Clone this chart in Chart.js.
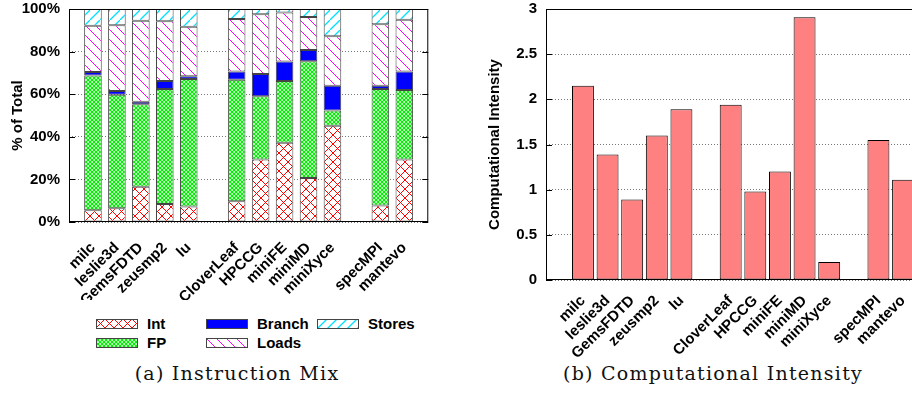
<!DOCTYPE html>
<html>
<head>
<meta charset="utf-8">
<script src="https://cdn.jsdelivr.net/npm/chart.js@4.4.1/dist/chart.umd.min.js"></script>
<style>
  html, body { margin: 0; padding: 0; background: #fff; width: 912px; height: 403px; overflow: hidden; }
  #wrap { position: relative; width: 912px; height: 403px; overflow: hidden; }
  #mixCanvas { position: absolute; left: 0; top: 0; }
  #ciCanvas { position: absolute; left: 460px; top: 0; }
  .cap { position: absolute; top: 363px; line-height: 20px; font-family: 'DejaVu Serif', serif; font-size: 19px; letter-spacing: 1.25px; color: #111; white-space: nowrap; transform: translateX(-50%); }
  .lg-swatch { position: absolute; }
  .lg-text { position: absolute; font: bold 15px 'Liberation Sans', Arial, sans-serif; line-height: 18px; color: #000; }
</style>
</head>
<body>
<div id="wrap">
  <canvas id="mixCanvas" width="450" height="300"></canvas>
  <canvas id="ciCanvas" width="500" height="360"></canvas>
  <div id="mixLegend"></div>
  <div class="cap" style="left:237px">(a) Instruction Mix</div>
  <div class="cap" style="left:713px">(b) Computational Intensity</div>
</div>
<script>
// Instruction mix / computational intensity per benchmark

const benchGroups = [
  ['milc', 'leslie3d', 'GemsFDTD', 'zeusmp2', 'lu'],
  ['CloverLeaf', 'HPCCG', 'miniFE', 'miniMD', 'miniXyce'],
  ['specMPI', 'mantevo'],
];

// % of total instructions
const intPct    = [5.5, 6.4, 16.5, 8.4, 7.3, 9.8, 29.3, 37.2, 20.7, 45.2, 7.8, 29.3];
const fpPct     = [63.3, 53.3, 38.8, 54.1, 59.8, 57.0, 29.7, 29.0, 54.8, 7.1, 54.7, 32.7];
const branchPct = [1.6, 1.8, 1.1, 3.7, 1.3, 3.9, 10.5, 9.2, 5.3, 11.7, 1.5, 8.6];
const loadsPct  = [21.7, 30.9, 38.1, 28.0, 23.3, 24.6, 28.0, 22.9, 15.5, 23.2, 28.8, 24.3];
const storesPct = [7.9, 7.6, 5.5, 5.8, 8.3, 4.7, 2.5, 1.7, 3.7, 12.8, 7.2, 5.1];

const intensity = [2.15, 1.39, 0.89, 1.60, 1.89, 1.94, 0.98, 1.20, 2.91, 0.20, 1.55, 1.11];

const mixTicks = [0, 20, 40, 60, 80, 100];
const ciTicks  = [0, 0.5, 1, 1.5, 2, 2.5, 3];

// ─── helpers ────────────────────────────────────────────────────────────────

// labels with an empty slot before, between and after the groups
const slotLabels = [''];
benchGroups.forEach(g => { slotLabels.push(...g, ''); });

function toSlots(values) {
  let i = 0;
  return slotLabels.map(l => (l === '' ? null : values[i++]));
}

function makePattern(size, draw) {
  const c = document.createElement('canvas');
  c.width = size; c.height = size;
  const g = c.getContext('2d');
  g.fillStyle = '#fff';
  g.fillRect(0, 0, size, size);
  draw(g, size);
  return g.createPattern(c, 'repeat');
}

function line(g, x1, y1, x2, y2) {
  g.beginPath(); g.moveTo(x1, y1); g.lineTo(x2, y2); g.stroke();
}

const intFill = makePattern(9, (g, s) => {
  g.strokeStyle = '#ff0000'; g.lineWidth = 1;
  line(g, 0, 0, s, s); line(g, s, 0, 0, s);
});
const fpFill = makePattern(4, (g, s) => {
  g.strokeStyle = '#00ee00'; g.lineWidth = 1.2;
  line(g, 0, 0, s, s); line(g, s, 0, 0, s);
});
const loadsFill = makePattern(10, (g, s) => {
  g.strokeStyle = '#ff00ff'; g.lineWidth = 1;
  line(g, 0, 0, s, s);
});
const storesFill = makePattern(10, (g, s) => {
  g.strokeStyle = '#00e0ff'; g.lineWidth = 1.3;
  line(g, -1, s + 1, s + 1, -1);
});

const mixSeries = [
  { label: 'Int',    data: intPct,    fill: intFill },
  { label: 'FP',     data: fpPct,     fill: fpFill },
  { label: 'Branch', data: branchPct, fill: '#0000ff' },
  { label: 'Loads',  data: loadsPct,  fill: loadsFill },
  { label: 'Stores', data: storesPct, fill: storesFill },
];

// plot frame + inward y tics, gnuplot style
const framePlugin = {
  id: 'frame',
  afterDatasetsDraw(chart) {
    const { ctx, chartArea: a, scales: { y } } = chart;
    ctx.save();
    ctx.strokeStyle = '#000';
    ctx.lineWidth = 1;
    ctx.strokeRect(a.left + 0.5, a.top + 0.5, a.right - a.left - 1, a.bottom - a.top - 1);
    y.ticks.forEach(t => {
      const py = Math.round(y.getPixelForValue(t.value)) + 0.5;
      line(ctx, a.left, py, a.left + 6, py);
      line(ctx, a.right, py, a.right - 6, py);
    });
    ctx.restore();
  },
};

Chart.defaults.font.family = "'Liberation Sans', Arial, sans-serif";
Chart.defaults.font.size = 15;
Chart.defaults.font.weight = 'bold';
Chart.defaults.color = '#000';

function xAxis(offset, height, pad) {
  return {
    offset,
    grid: { display: false },
    border: { display: false },
    ticks: { autoSkip: false, maxRotation: 45, minRotation: 45, padding: pad },
    afterFit: s => { s.height = height; },
  };
}

function yAxis(min, max, values, width, titleText, titlePad, fmt) {
  return {
    min, max,
    afterBuildTicks: s => { s.ticks = values.map(v => ({ value: v })); },
    // invisible tick marks keep the label gap without padding the top
    grid: { color: '#777', lineWidth: 1, drawTicks: true, tickLength: 9, tickColor: 'rgba(0,0,0,0)' },
    border: { display: false, dash: [1, 2] },
    ticks: { padding: 0, callback: fmt },
    title: { display: true, text: titleText, padding: { top: titlePad, bottom: 0 } },
    afterFit: s => { s.width = width; },
  };
}

// ─── (a) Instruction mix ────────────────────────────────────────────────────

function renderMixChart() {
  const ctx = document.getElementById('mixCanvas');
  const x = xAxis(false, 78, 9);
  x.stacked = true;
  const y = yAxis(0, 100, mixTicks, 69, '% of Total', 9, v => v + '%');
  y.stacked = true;

  new Chart(ctx, {
    type: 'bar',
    data: {
      labels: slotLabels,
      datasets: mixSeries.map(s => ({
        label: s.label,
        data: toSlots(s.data),
        backgroundColor: s.fill,
        borderColor: '#444',
        borderWidth: 1,
        borderSkipped: false,
        barPercentage: 0.734,
        categoryPercentage: 1,
      })),
    },
    options: {
      responsive: false,
      animation: false,
      layout: { padding: { top: 8, right: 13, left: 0, bottom: 0 } },
      plugins: { legend: { display: false }, tooltip: { enabled: false } },
      scales: { x, y },
    },
    plugins: [framePlugin],
  });
}

function renderMixLegend() {
  const box = document.getElementById('mixLegend');
  const colX = [96, 206, 317];
  const rowY = [319, 338];
  mixSeries.forEach((s, i) => {
    const left = colX[Math.floor(i / 2)];
    const top = rowY[i % 2];
    const c = document.createElement('canvas');
    c.width = 42; c.height = 10;
    c.className = 'lg-swatch';
    c.style.left = left + 'px';
    c.style.top = top + 'px';
    const g = c.getContext('2d');
    g.fillStyle = s.fill;
    g.fillRect(0, 0, 42, 10);
    g.strokeStyle = '#444';
    g.strokeRect(0.5, 0.5, 41, 9);
    box.appendChild(c);
    const t = document.createElement('div');
    t.className = 'lg-text';
    t.textContent = s.label;
    t.style.left = (left + 51) + 'px';
    t.style.top = (top - 4) + 'px';
    box.appendChild(t);
  });
}

// ─── (b) Computational intensity ───────────────────────────────────────────

function renderIntensityChart() {
  const ctx = document.getElementById('ciCanvas');
  new Chart(ctx, {
    type: 'bar',
    data: {
      labels: slotLabels,
      datasets: [{
        label: 'Computational Intensity',
        data: toSlots(intensity),
        backgroundColor: '#ff8080',
        borderColor: '#000',
        borderWidth: 1,
        borderSkipped: false,
        barPercentage: 0.89,
        categoryPercentage: 1,
      }],
    },
    options: {
      responsive: false,
      animation: false,
      layout: { padding: { top: 8, right: 20, left: 0, bottom: 0 } },
      plugins: { legend: { display: false }, tooltip: { enabled: false } },
      scales: {
        x: xAxis(true, 80, 4),
        y: yAxis(0, 3, ciTicks, 86, 'Computational Intensity', 26),
      },
    },
    plugins: [framePlugin],
  });
}

renderMixChart();
renderMixLegend();
renderIntensityChart();
</script>
</body>
</html>
